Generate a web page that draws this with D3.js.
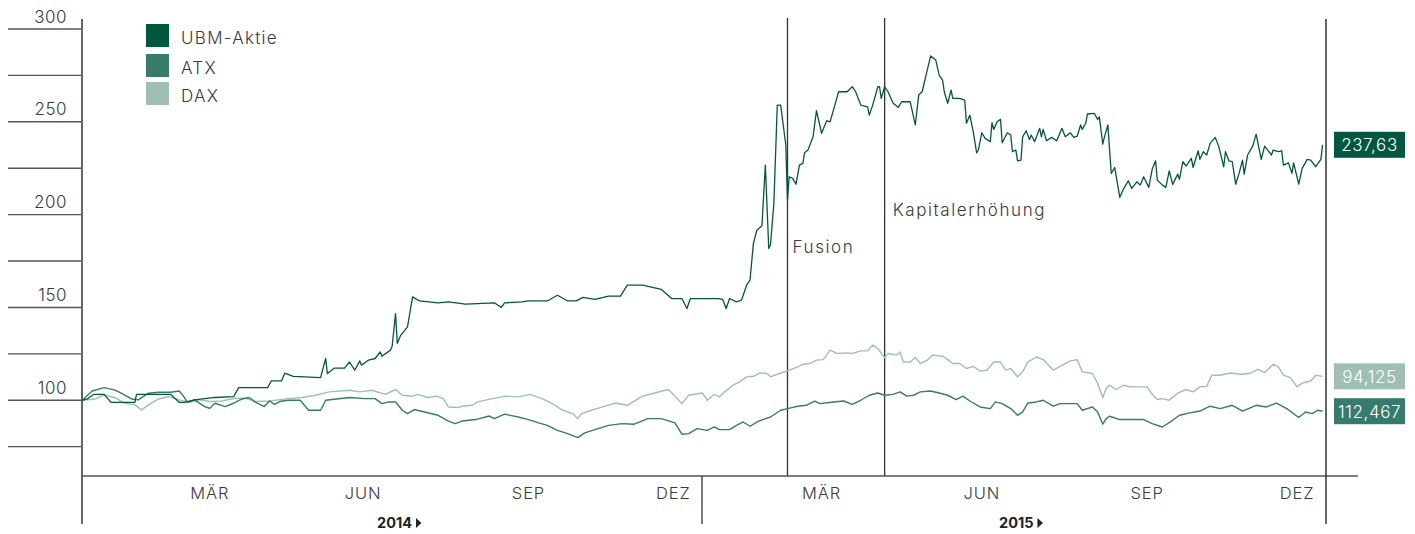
<!DOCTYPE html>
<html>
<head>
<meta charset="utf-8">
<script src="https://cdn.jsdelivr.net/npm/d3@7"></script>
<style>
  html, body { margin: 0; padding: 0; background: #fff; }
  svg { display: block; font-family: Inter, "Noto Sans", sans-serif; }
</style>
</head>
<body>
<svg id="chart" width="1415" height="534"></svg>
<script>
// ---------- DATA (days since 1 Jan 2014, indexed values) ----------
const seriesNames = ["UBM-Aktie", "ATX", "DAX"];
const seriesColors = ["#02573F", "#367B6B", "#A0BFB4"];
const endLabels = ["237,63", "112,467", "94,125"];

const ubmDays = [0,3,7,13,17,31,32,52,57,60,66,78,89,92,109,111,117,119,124,140,143,144,148,154,157,160,163,164,168,172,175,176,181,182,184,185,187,191,194,198,209,215,225,232,242,246,248,258,262,273,279,285,290,294,301,309,316,320,329,340,346,352,355,357,373,376,378,380,384,387,390,392,393,394,396,399,401,403,404,406,408,410,413,414,415,417,419,421,423,424,426,429,431,434,437,439,444,449,452,454,457,461,462,464,467,468,469,471,473,476,479,481,486,489,491,493,496,498,501,503,505,506,508,510,511,515,518,519,521,523,525,526,528,530,533,534,535,537,539,540,543,545,546,548,549,551,552,554,556,557,559,562,563,564,566,569,572,575,577,580,582,584,586,587,589,590,594,596,597,599,600,602,603,604,606,609,611,614,616,619,621,623,626,628,630,631,634,636,638,640,643,644,646,648,651,652,655,656,658,660,662,665,667,670,671,673,675,677,679,681,682,684,687,689,692,694,698,699,702,704,705,708,710,711,714,716,719,721,724,725,727,728];
const ubmValues = [100,100.7,103.2,103.2,98.9,98.9,103.2,103.2,98.9,98.9,100.2,101.5,102.0,106.8,106.8,110.4,110.4,114.6,112.9,112.2,122.5,114.4,117.3,117.3,120.6,116.2,121.2,118.9,121.6,122.5,126.0,123.7,127.0,129.1,146.7,130.6,135.0,139.5,155.7,153.5,152.5,153.0,151.8,152.1,152.5,150.0,152.5,153.0,153.5,153.5,156.6,153.5,153.5,155.4,154.3,156.1,156.1,162.0,162.0,159.7,154.8,154.8,149.4,154.8,154.8,154.3,149.4,154.8,153.0,153.9,162.0,164.7,174.6,184.5,191.6,194.0,226.7,181.8,183.6,206.0,259.0,259.0,237.5,207.8,220.4,219.5,216.4,226.7,227.6,233.3,234.8,241.9,256.0,243.8,250.6,250.0,266.2,266.2,268.9,266.2,259.0,258.1,253.6,259.0,268.9,268.9,262.6,268.9,266.2,260.0,257.8,260.8,260.8,248.3,264.4,266.2,277.9,285.5,283.3,275.2,272.5,266.2,260.0,267.1,262.6,262.6,261.7,249.2,253.6,244.6,233.3,234.8,244.1,241.1,239.3,249.5,245.9,250.0,251.3,238.7,244.1,242.9,233.9,234.8,229.0,229.4,241.9,245.2,240.5,242.9,239.3,246.5,241.9,245.9,239.8,241.6,239.8,246.5,241.9,244.1,241.6,242.3,248.3,245.9,249.2,254.2,254.6,251.3,252.7,238.0,241.9,248.3,234.8,222.2,225.4,209.3,213.6,218.2,214.1,217.7,215.9,220.4,214.7,224.4,229.0,218.6,215.9,214.7,223.6,216.3,221.8,219.0,228.5,226.2,230.3,225.4,234.4,229.8,233.9,232.1,238.4,241.6,236.9,225.8,233.9,229.0,228.5,216.4,222.2,229.4,221.8,232.1,236.9,243.4,229.8,236.9,232.1,234.8,233.9,234.4,226.7,227.9,222.2,227.9,216.4,224.9,229.8,229.4,225.8,227.2,229.8,237.63];

const atxDays = [0,6,13,19,23,29,33,39,45,52,57,59,62,66,72,75,78,84,89,94,98,102,107,110,113,116,121,128,133,140,143,157,166,172,176,180,184,188,191,195,201,209,215,219,223,231,239,242,248,256,262,268,273,279,285,291,295,301,309,317,324,332,340,348,352,356,361,367,371,374,380,384,388,392,397,404,410,414,420,425,430,433,441,447,452,457,462,467,471,476,480,484,488,492,498,503,508,513,517,521,527,533,536,540,545,549,552,555,560,564,570,574,580,584,587,593,596,599,601,603,609,615,623,628,634,640,644,650,656,662,668,675,681,689,695,701,707,714,718,722,725,728];
const atxValues = [100,105.0,106.8,105.6,103.8,100.7,100.2,103.8,104.3,104.3,105.0,102.9,98.9,100.2,96.6,95.7,98.4,96.6,98.4,100.7,101.5,98.9,96.6,99.6,97.8,99.3,100.0,100.0,94.6,94.6,100.0,101.5,100.9,100.9,98.2,99.1,99.1,94.6,92.8,95.0,93.7,91.9,88.8,87.4,88.8,89.6,91.5,90.1,92.5,91.0,89.6,87.8,86.5,83.8,82.0,79.9,82.4,84.2,86.5,87.4,87.1,90.1,90.1,87.8,81.7,82.0,84.7,83.8,85.6,84.2,84.2,86.5,88.3,86.0,88.8,91.0,94.6,95.5,96.8,97.3,99.6,98.2,99.1,99.6,97.8,100.0,102.7,103.9,102.7,103.2,104.5,102.2,102.7,104.5,105.0,103.9,102.7,100.4,102.2,99.6,96.4,95.5,99.1,98.2,95.5,91.9,93.7,98.5,99.1,100.0,96.8,98.2,98.2,98.2,94.6,96.4,93.7,87.1,90.1,91.4,89.6,89.6,89.6,87.4,85.6,89.2,91.9,93.2,94.2,96.8,95.5,97.3,94.2,97.3,96.4,98.5,95.5,90.7,93.7,92.8,94.6,94.1];

const daxDays = [0,8,13,19,25,31,35,39,45,51,57,63,69,75,82,90,96,102,110,121,129,137,145,157,163,170,178,184,188,194,197,203,208,212,215,221,223,229,232,241,248,256,263,270,276,282,288,291,293,299,307,313,320,329,336,344,347,352,356,364,367,371,374,377,382,386,390,394,398,402,404,410,414,420,423,427,431,435,439,443,449,452,457,461,464,467,471,473,478,480,482,486,489,492,496,499,505,508,511,515,519,523,527,531,535,539,542,545,549,552,555,560,564,570,574,580,584,587,593,596,599,601,603,607,611,615,620,625,628,631,634,638,643,648,652,656,660,663,668,674,680,685,690,694,699,702,705,709,713,716,721,724,728];
const daxValues = [100,100.7,102.9,101.5,98.4,97.5,94.8,97.5,100.7,102.0,100.2,98.9,100.2,99.3,99.6,101.1,101.1,99.3,99.6,100.9,101.5,102.7,104.5,105.4,104.5,105.4,103.2,105.8,102.7,102.2,103.2,101.5,102.2,100.9,96.4,96.1,96.8,97.3,99.1,100.9,102.2,101.8,103.2,100.9,98.2,94.6,92.8,90.1,92.8,94.6,96.8,98.5,97.3,102.2,103.9,105.8,103.2,98.2,102.7,103.9,100.0,103.2,101.8,104.5,108.1,109.9,112.6,112.9,114.7,114.4,112.6,114.7,115.8,118.0,119.4,119.8,121.6,121.9,127.0,125.2,125.5,125.2,126.6,126.6,129.7,127.9,123.0,125.2,124.3,126.0,120.6,120.6,123.0,119.8,121.6,124.3,123.7,121.9,119.8,119.8,117.1,118.3,115.8,116.2,120.6,120.6,116.2,117.1,112.6,115.3,120.6,123.3,121.9,116.2,118.3,121.2,121.9,115.3,114.4,109.0,101.5,106.3,108.1,105.8,108.1,107.2,107.2,107.2,103.2,100.4,100.9,100.0,103.9,105.8,104.5,107.2,107.5,113.5,113.5,114.7,114.0,114.4,116.6,114.9,119.4,118.0,113.5,112.2,107.2,109.3,110.4,113.5,112.9];

const yTicks = [75, 100, 125, 150, 175, 200, 225, 250, 275, 300];
const yLabelTicks = [100, 150, 200, 250, 300];
const monthLabels = ["MÄR", "JUN", "SEP", "DEZ", "MÄR", "JUN", "SEP", "DEZ"];
const monthLabelDates = ["2014-03-17", "2014-06-15", "2014-09-20", "2014-12-14", "2015-03-11", "2015-06-13", "2015-09-18", "2015-12-15"];
const yearLabels = ["2014", "2015"];
const yearStarts = ["2014-01-01", "2015-01-01"];
const events = [
  { name: "Fusion", date: "2015-02-19", labelValue: 179.5, dx: 5 },
  { name: "Kapitalerhöhung", date: "2015-04-17", labelValue: 199.5, dx: 8 }
];

// ---------- SCALES ----------
const parse = d3.timeParse("%Y-%m-%d");
const t0 = new Date(2014, 0, 1);
const x = d3.scaleTime().domain([t0, new Date(2016, 0, 1)]).range([82, 1326]);
const y = d3.scaleLinear().domain([59.2, 300]).range([476, 29]);

const svg = d3.select("#chart");
const ink = "#333";
const textCol = "#3a3a3a";

// y gridline stubs (left of axis)
svg.append("g").selectAll("line").data(yTicks).join("line")
  .attr("x1", 8).attr("x2", 81)
  .attr("y1", d => y(d)).attr("y2", d => y(d))
  .attr("stroke", "#555").attr("stroke-width", 1.4);

svg.append("g").selectAll("text").data(yLabelTicks).join("text")
  .attr("x", 67).attr("y", d => y(d) - 6.5)
  .attr("text-anchor", "end")
  .attr("font-size", 17).attr("font-weight", 300).attr("fill", textCol).attr("letter-spacing", 0.5)
  .text(d => d);

// y-axis vertical line
svg.append("line").attr("x1", 82).attr("x2", 82).attr("y1", 19).attr("y2", 524)
  .attr("stroke", ink).attr("stroke-width", 1.5);

// x axis line
svg.append("line").attr("x1", 82).attr("x2", 1358).attr("y1", y(59.2)).attr("y2", y(59.2))
  .attr("stroke", "#555").attr("stroke-width", 1.5);

// year separator and right boundary
svg.append("line").attr("x1", x(parse(yearStarts[1])) - 2).attr("x2", x(parse(yearStarts[1])) - 2)
  .attr("y1", 476).attr("y2", 524).attr("stroke", ink).attr("stroke-width", 1.3);
svg.append("line").attr("x1", x(new Date(2016, 0, 1))).attr("x2", x(new Date(2016, 0, 1)))
  .attr("y1", 19).attr("y2", 524).attr("stroke", ink).attr("stroke-width", 1.5);

// month labels
svg.append("g").selectAll("text").data(monthLabels).join("text")
  .attr("x", (d, i) => x(parse(monthLabelDates[i])))
  .attr("y", 499)
  .attr("text-anchor", "middle")
  .attr("font-size", 16.5).attr("font-weight", 300).attr("fill", textCol).attr("letter-spacing", 0.9)
  .text(d => d);

// year labels with triangle
const yearMid = (i) => {
  const a = x(parse(yearStarts[i]));
  const b = i + 1 < yearStarts.length ? x(parse(yearStarts[i + 1])) : x(new Date(2016, 0, 1));
  return (a + b) / 2;
};
yearLabels.forEach((lab, i) => {
  const tx = yearMid(i) - 16;
  const t = svg.append("text").attr("x", tx).attr("y", 528)
    .attr("font-size", 14.5).attr("font-weight", 700).attr("fill", "#222")
    .text(lab);
  const w = t.node().getComputedTextLength();
  const px = tx + w + 4;
  svg.append("path")
    .attr("d", `M${px},${518} L${px + 5.5},${523} L${px},${528} Z`)
    .attr("fill", "#222");
});

// event lines
events.forEach(ev => {
  const ex = x(parse(ev.date));
  svg.append("line").attr("x1", ex).attr("x2", ex).attr("y1", 18).attr("y2", 476)
    .attr("stroke", ink).attr("stroke-width", 1.3);
  svg.append("text").attr("x", ex + ev.dx).attr("y", y(ev.labelValue))
    .attr("font-size", 17).attr("font-weight", 300).attr("fill", textCol).attr("letter-spacing", 1.6)
    .text(ev.name);
});

// series lines
const series = [
  { days: daxDays, values: daxValues, idx: 2 },
  { days: atxDays, values: atxValues, idx: 1 },
  { days: ubmDays, values: ubmValues, idx: 0 }
];
const line = d3.line().x(d => x(d[0])).y(d => y(d[1]));
series.forEach(s => {
  const pts = s.days.map((d, i) => [d3.timeDay.offset(t0, d), s.values[i]]);
  svg.append("path").datum(pts)
    .attr("d", line)
    .attr("fill", "none")
    .attr("stroke", seriesColors[s.idx])
    .attr("stroke-width", s.idx === 0 ? 1.3 : 1.4)
    .attr("stroke-linejoin", "round");
});

// end value boxes
series.forEach(s => {
  const last = s.values[s.values.length - 1];
  const cy = y(last);
  const g = svg.append("g");
  g.append("rect").attr("x", 1334).attr("y", cy - 13).attr("width", 71).attr("height", 26)
    .attr("fill", seriesColors[s.idx]);
  g.append("text").attr("x", 1369.5).attr("y", cy + 6.5)
    .attr("text-anchor", "middle").attr("font-size", 17).attr("font-weight", 300)
    .attr("fill", "#fff").attr("letter-spacing", 0.6)
    .text(endLabels[s.idx]);
});

// legend
const legendY = [24, 54, 82];
seriesNames.forEach((n, i) => {
  svg.append("rect").attr("x", 146).attr("y", legendY[i]).attr("width", 23).attr("height", 23)
    .attr("fill", seriesColors[i]);
  svg.append("text").attr("x", 181).attr("y", legendY[i] + 20)
    .attr("font-size", 17).attr("font-weight", 300).attr("fill", textCol).attr("letter-spacing", 1.3)
    .text(n);
});
</script>
</body>
</html>
